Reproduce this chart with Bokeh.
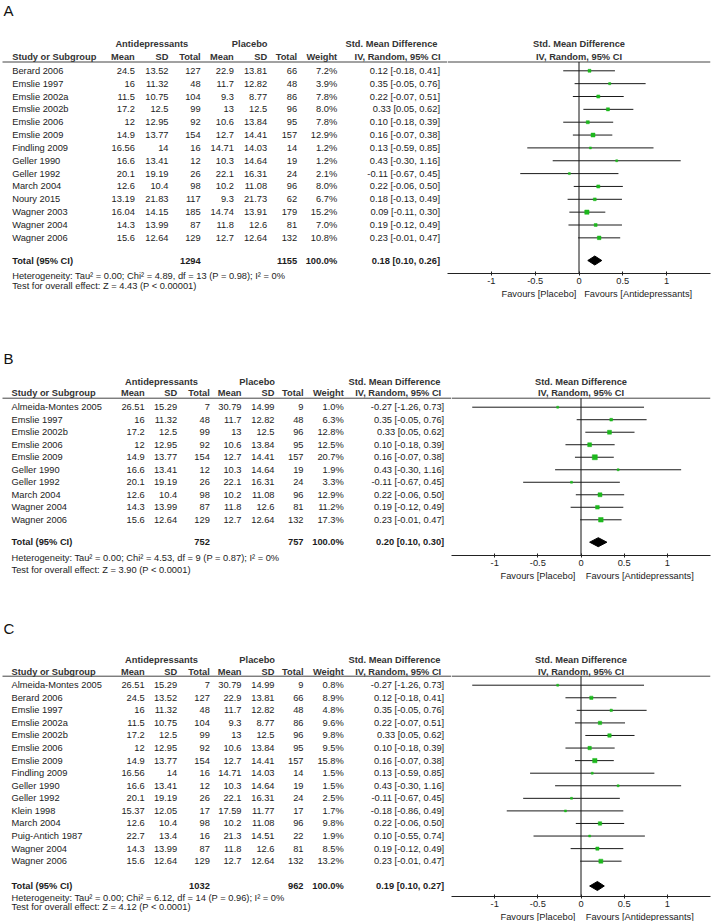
import math
from bokeh.plotting import figure
from bokeh.layouts import column, row
from bokeh.models import Range1d, FixedTicker, Title
from bokeh.core.properties import value
from bokeh.embed import file_html
from bokeh.resources import INLINE

# ------------------------------------------------------------------ data
# Panel A
A_study = ["Berard 2006", "Emslie 1997", "Emslie 2002a", "Emslie 2002b", "Emslie 2006",
           "Emslie 2009", "Findling 2009", "Geller 1990", "Geller 1992", "March 2004",
           "Noury 2015", "Wagner 2003", "Wagner 2004", "Wagner 2006"]
A_ad_mean = [24.5, 16, 11.5, 17.2, 12, 14.9, 16.56, 16.6, 20.1, 12.6, 13.19, 16.04, 14.3, 15.6]
A_ad_sd = [13.52, 11.32, 10.75, 12.5, 12.95, 13.77, 14, 13.41, 19.19, 10.4, 21.83, 14.15, 13.99, 12.64]
A_ad_n = [127, 48, 104, 99, 92, 154, 16, 12, 26, 98, 117, 185, 87, 129]
A_pl_mean = [22.9, 11.7, 9.3, 13, 10.6, 12.7, 14.71, 10.3, 22.1, 10.2, 9.3, 14.74, 11.8, 12.7]
A_pl_sd = [13.81, 12.82, 8.77, 12.5, 13.84, 14.41, 14.03, 14.64, 16.31, 11.08, 21.73, 13.91, 12.6, 12.64]
A_pl_n = [66, 48, 86, 96, 95, 157, 14, 19, 24, 96, 62, 179, 81, 132]
A_weight = [7.2, 3.9, 7.8, 8.0, 7.8, 12.9, 1.2, 1.2, 2.1, 8.0, 6.7, 15.2, 7.0, 10.8]
A_smd = [0.12, 0.35, 0.22, 0.33, 0.10, 0.16, 0.13, 0.43, -0.11, 0.22, 0.18, 0.09, 0.19, 0.23]
A_lo = [-0.18, -0.05, -0.07, 0.05, -0.18, -0.07, -0.59, -0.30, -0.67, -0.06, -0.13, -0.11, -0.12, -0.01]
A_hi = [0.41, 0.76, 0.51, 0.62, 0.39, 0.38, 0.85, 1.16, 0.45, 0.50, 0.49, 0.30, 0.49, 0.47]
A_total = [1294, 1155]
A_pooled = [0.18, 0.10, 0.26]
A_het = "Heterogeneity: Tau\u00b2 = 0.00; Chi\u00b2 = 4.89, df = 13 (P = 0.98); I\u00b2 = 0%"
A_test = "Test for overall effect: Z = 4.43 (P < 0.00001)"

# Panel B
B_study = ["Almeida-Montes 2005", "Emslie 1997", "Emslie 2002b", "Emslie 2006", "Emslie 2009",
           "Geller 1990", "Geller 1992", "March 2004", "Wagner 2004", "Wagner 2006"]
B_ad_mean = [26.51, 16, 17.2, 12, 14.9, 16.6, 20.1, 12.6, 14.3, 15.6]
B_ad_sd = [15.29, 11.32, 12.5, 12.95, 13.77, 13.41, 19.19, 10.4, 13.99, 12.64]
B_ad_n = [7, 48, 99, 92, 154, 12, 26, 98, 87, 129]
B_pl_mean = [30.79, 11.7, 13, 10.6, 12.7, 10.3, 22.1, 10.2, 11.8, 12.7]
B_pl_sd = [14.99, 12.82, 12.5, 13.84, 14.41, 14.64, 16.31, 11.08, 12.6, 12.64]
B_pl_n = [9, 48, 96, 95, 157, 19, 24, 96, 81, 132]
B_weight = [1.0, 6.3, 12.8, 12.5, 20.7, 1.9, 3.3, 12.9, 11.2, 17.3]
B_smd = [-0.27, 0.35, 0.33, 0.10, 0.16, 0.43, -0.11, 0.22, 0.19, 0.23]
B_lo = [-1.26, -0.05, 0.05, -0.18, -0.07, -0.30, -0.67, -0.06, -0.12, -0.01]
B_hi = [0.73, 0.76, 0.62, 0.39, 0.38, 1.16, 0.45, 0.50, 0.49, 0.47]
B_total = [752, 757]
B_pooled = [0.20, 0.10, 0.30]
B_het = "Heterogeneity: Tau\u00b2 = 0.00; Chi\u00b2 = 4.53, df = 9 (P = 0.87); I\u00b2 = 0%"
B_test = "Test for overall effect: Z = 3.90 (P < 0.0001)"

# Panel C
C_study = ["Almeida-Montes 2005", "Berard 2006", "Emslie 1997", "Emslie 2002a", "Emslie 2002b",
           "Emslie 2006", "Emslie 2009", "Findling 2009", "Geller 1990", "Geller 1992",
           "Klein 1998", "March 2004", "Puig-Antich 1987", "Wagner 2004", "Wagner 2006"]
C_ad_mean = [26.51, 24.5, 16, 11.5, 17.2, 12, 14.9, 16.56, 16.6, 20.1, 15.37, 12.6, 22.7, 14.3, 15.6]
C_ad_sd = [15.29, 13.52, 11.32, 10.75, 12.5, 12.95, 13.77, 14, 13.41, 19.19, 12.05, 10.4, 13.4, 13.99, 12.64]
C_ad_n = [7, 127, 48, 104, 99, 92, 154, 16, 12, 26, 17, 98, 16, 87, 129]
C_pl_mean = [30.79, 22.9, 11.7, 9.3, 13, 10.6, 12.7, 14.71, 10.3, 22.1, 17.59, 10.2, 21.3, 11.8, 12.7]
C_pl_sd = [14.99, 13.81, 12.82, 8.77, 12.5, 13.84, 14.41, 14.03, 14.64, 16.31, 11.77, 11.08, 14.51, 12.6, 12.64]
C_pl_n = [9, 66, 48, 86, 96, 95, 157, 14, 19, 24, 17, 96, 22, 81, 132]
C_weight = [0.8, 8.9, 4.8, 9.6, 9.8, 9.5, 15.8, 1.5, 1.5, 2.5, 1.7, 9.8, 1.9, 8.5, 13.2]
C_smd = [-0.27, 0.12, 0.35, 0.22, 0.33, 0.10, 0.16, 0.13, 0.43, -0.11, -0.18, 0.22, 0.10, 0.19, 0.23]
C_lo = [-1.26, -0.18, -0.05, -0.07, 0.05, -0.18, -0.07, -0.59, -0.30, -0.67, -0.86, -0.06, -0.55, -0.12, -0.01]
C_hi = [0.73, 0.41, 0.76, 0.51, 0.62, 0.39, 0.38, 0.85, 1.16, 0.45, 0.49, 0.50, 0.74, 0.49, 0.47]
C_total = [1032, 962]
C_pooled = [0.19, 0.10, 0.27]
C_het = "Heterogeneity: Tau\u00b2 = 0.00; Chi\u00b2 = 6.12, df = 14 (P = 0.96); I\u00b2 = 0%"
C_test = "Test for overall effect: Z = 4.12 (P < 0.0001)"

AX_TICKS = [-1, -0.5, 0, 0.5, 1]
AX_LABELS = ["-1", "-0.5", "0", "0.5", "1"]
FAV_LEFT = "Favours [Placebo]"
FAV_RIGHT = "Favours [Antidepressants]"

# ------------------------------------------------------------------ style
FONT_NAME = "Liberation Sans"
FONT = value(FONT_NAME)
FS = "9.3px"
TXT = "#1c1c1c"
HDR = "#333333"
GREEN = "#1db81d"

# layout (pixel units inside each panel)
COLS_A = dict(name=11.7, am=134.3, asd=168.0, an=200.2, pm=233.3, psd=266.7, pn=296.7, w=336.7,
              smd=439.5, h_smd=437.0, h_iv=440.0, c_ad=151.3, c_pl=249.2)
COLS_BC = dict(name=11.0, am=144.2, asd=176.7, an=209.3, pm=241.0, psd=274.0, pn=303.0, w=343.3,
               smd=443.7, h_smd=440.0, h_iv=440.7, c_ad=161.0, c_pl=256.7)
LAY_A = dict(H=318, tw=447, letter=10.0, h1=43.3, h2=56.7, line=61.5, y0=70.3, step=12.85,
             total=260.0, het=275.0, test=285.7, axis=273, fav_off=54, fav_gap=3, fav_so=1, cols=COLS_A)
LAY_B = dict(H=270, tw=451, letter=39.8, h1=63.0, h2=74.7, line=79.7, y0=88.7, step=12.51,
             total=223.7, het=239.7, test=251.3, axis=237, fav_off=49, fav_gap=4, fav_so=0, cols=COLS_BC)
LAY_C = dict(H=333, tw=451, letter=39.8, h1=71.0, h2=83.0, line=87.7, y0=96.7, step=12.57,
             total=297.5, het=309.3, test=318.7, axis=308, fav_off=49, fav_gap=4, fav_so=0, cols=COLS_BC)
PAGE_W = 720
RIGHT_PAD = 10


def g(v):
    return f"{v:g}"


def ci_text(e, lo, hi):
    return f"{e:.2f} [{lo:.2f}, {hi:.2f}]"


def txt(p, x, y, text, align="left", bold=False, color=TXT, size=FS):
    p.text(x=x, y=y, text=text, text_font=FONT, text_font_size=size,
           text_align=align, text_baseline="middle", text_color=color,
           text_font_style="bold" if bold else "normal")


def panel(letter, study, am, asd, an, pm, psd, pn, w, smd, lo, hi, total, pooled, het, test, L):
    H = L["H"]
    C = L["cols"]
    n = len(study)
    ys = [L["y0"] + i * L["step"] for i in range(n)]

    # ---------------- table part
    t = figure(width=L["tw"], height=H, x_range=Range1d(0, L["tw"]), y_range=Range1d(H, 0),
               output_backend="svg", toolbar_location=None, x_axis_location=None,
               y_axis_location=None, min_border=0, title=None, outline_line_color=None)
    t.frame_align = False
    t.grid.visible = False
    t.background_fill_color = None
    t.border_fill_color = None

    txt(t, [3], [L["letter"]], [letter], size="15px", color="#111111")
    # header rows
    txt(t, [C["c_ad"], C["c_pl"]], [L["h1"]] * 2, ["Antidepressants", "Placebo"], "center", True, HDR)
    txt(t, [C["h_smd"]], [L["h1"]], ["Std. Mean Difference"], "right", True, HDR)
    txt(t, [C["name"]], [L["h2"]], ["Study or Subgroup"], "left", True, HDR)
    hx = [C["am"], C["asd"], C["an"], C["pm"], C["psd"], C["pn"], C["w"], C["h_iv"]]
    txt(t, hx, [L["h2"]] * len(hx),
        ["Mean", "SD", "Total", "Mean", "SD", "Total", "Weight", "IV, Random, 95% CI"], "right", True, HDR)
    t.segment(x0=[2], x1=[L["tw"]], y0=[L["line"]], y1=[L["line"]], line_color="#444444", line_width=1)

    # study rows
    txt(t, [C["name"]] * n, ys, study)
    txt(t, [C["am"]] * n, ys, [g(v) for v in am], "right")
    txt(t, [C["asd"]] * n, ys, [g(v) for v in asd], "right")
    txt(t, [C["an"]] * n, ys, [str(v) for v in an], "right")
    txt(t, [C["pm"]] * n, ys, [g(v) for v in pm], "right")
    txt(t, [C["psd"]] * n, ys, [g(v) for v in psd], "right")
    txt(t, [C["pn"]] * n, ys, [str(v) for v in pn], "right")
    txt(t, [C["w"]] * n, ys, [f"{v:.1f}%" for v in w], "right")
    txt(t, [C["smd"]] * n, ys, [ci_text(e, a, b) for e, a, b in zip(smd, lo, hi)], "right")

    # total rows
    ty = L["total"]
    txt(t, [C["name"]], [ty], ["Total (95% CI)"], "left", True)
    txt(t, [C["an"], C["pn"], C["w"], C["smd"]], [ty] * 4,
        [str(total[0]), str(total[1]), "100.0%", ci_text(*pooled)], "right", True)
    txt(t, [C["name"], C["name"]], [L["het"], L["test"]], [het, test])

    # ---------------- forest part
    ax_y = int(L["axis"])
    fw = PAGE_W - L["tw"]
    f = figure(width=fw, height=H, x_range=Range1d(-1.5, 1.5), y_range=Range1d(ax_y, 0),
               output_backend="svg", toolbar_location=None, x_axis_location="below",
               y_axis_location=None, min_border_left=0, min_border_right=RIGHT_PAD, min_border_top=0,
               min_border_bottom=int(H - ax_y), title=None, outline_line_color=None)
    f.frame_align = False
    f.grid.visible = False
    f.background_fill_color = None
    f.border_fill_color = None
    ax = f.xaxis[0]
    ax.ticker = FixedTicker(ticks=AX_TICKS)
    ax.major_label_overrides = {float(k): s for k, s in zip(AX_TICKS, AX_LABELS)}
    ax.minor_tick_line_color = None
    ax.major_tick_in = 2
    ax.major_tick_out = 2
    ax.major_label_standoff = 2
    ax.axis_line_color = "#222222"
    ax.major_tick_line_color = "#222222"
    ax.major_label_text_font = FONT_NAME
    ax.major_label_text_font_size = FS
    ax.major_label_text_color = TXT

    txt(f, [0, 0], [L["h1"], L["h2"]], ["Std. Mean Difference", "IV, Random, 95% CI"], "center", True, HDR)
    f.segment(x0=[-1.5], x1=[1.5], y0=[L["line"]], y1=[L["line"]], line_color="#444444", line_width=1)
    f.segment(x0=[0], x1=[0], y0=[L["line"]], y1=[ax_y], line_color="#111111", line_width=1)

    f.segment(x0=lo, x1=hi, y0=ys, y1=ys, line_color="#1a1a1a", line_width=1)
    sizes = [max(2.0, 1.1 * math.sqrt(v)) for v in w]
    f.scatter(x=smd, y=ys, marker="square", size=sizes, fill_color=GREEN, line_color=GREEN, line_width=0.5)

    e, a, b = pooled
    f.patch(x=[a, e, b, e], y=[ty, ty - 4.5, ty, ty + 4.5], fill_color="black", line_color="black")

    fav = FAV_LEFT + "\u00a0" * L["fav_gap"] + FAV_RIGHT
    f.add_layout(Title(text=fav, align="left", offset=L["fav_off"], standoff=L["fav_so"],
                       text_font=FONT_NAME, text_font_size=FS, text_font_style="normal",
                       text_color=TXT), "below")
    return row(t, f, spacing=0)


pA = panel("A", A_study, A_ad_mean, A_ad_sd, A_ad_n, A_pl_mean, A_pl_sd, A_pl_n, A_weight,
           A_smd, A_lo, A_hi, A_total, A_pooled, A_het, A_test, LAY_A)
pB = panel("B", B_study, B_ad_mean, B_ad_sd, B_ad_n, B_pl_mean, B_pl_sd, B_pl_n, B_weight,
           B_smd, B_lo, B_hi, B_total, B_pooled, B_het, B_test, LAY_B)
pC = panel("C", C_study, C_ad_mean, C_ad_sd, C_ad_n, C_pl_mean, C_pl_sd, C_pl_n, C_weight,
           C_smd, C_lo, C_hi, C_total, C_pooled, C_het, C_test, LAY_C)

p = column(pA, pB, pC, spacing=0)
open("out.html", "w").write(file_html(p, INLINE))
